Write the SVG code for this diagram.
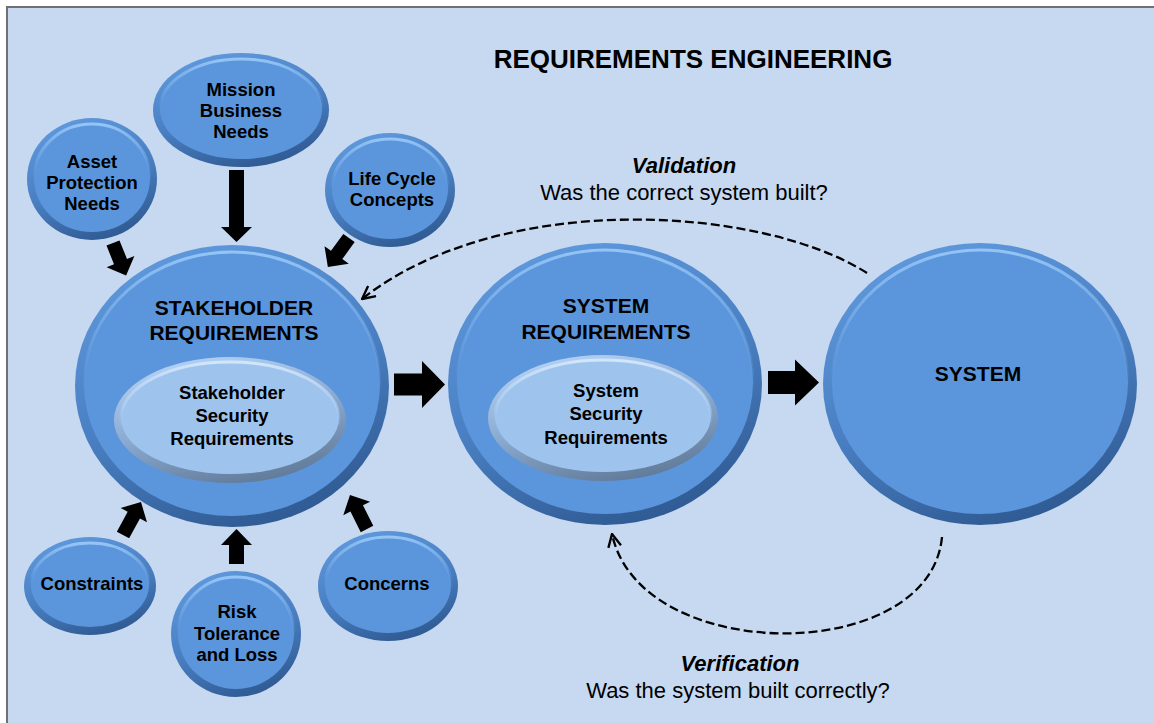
<svg xmlns="http://www.w3.org/2000/svg" width="1154" height="723" viewBox="0 0 1154 723">
<defs>
<linearGradient id="rim" x1="0.3" y1="0" x2="0.7" y2="1">
<stop offset="0" stop-color="#5f98dc"/>
<stop offset="0.5" stop-color="#4a80c3"/>
<stop offset="1" stop-color="#2e5890"/>
</linearGradient>
<linearGradient id="hl" x1="0" y1="0" x2="0" y2="1">
<stop offset="0" stop-color="#94c5f6" stop-opacity="1"/>
<stop offset="0.3" stop-color="#7fb3ee" stop-opacity="0.5"/>
<stop offset="0.55" stop-color="#5b96dc" stop-opacity="0"/>
</linearGradient>
<linearGradient id="rimL" x1="0.3" y1="0" x2="0.7" y2="1">
<stop offset="0" stop-color="#b3d1f4"/>
<stop offset="0.5" stop-color="#8aa9d0"/>
<stop offset="1" stop-color="#5f7896"/>
</linearGradient>
<linearGradient id="hlL" x1="0" y1="0" x2="0" y2="1">
<stop offset="0" stop-color="#d2e6fb" stop-opacity="1"/>
<stop offset="0.4" stop-color="#b8d6f7" stop-opacity="0.5"/>
<stop offset="0.6" stop-color="#9fc4ee" stop-opacity="0"/>
</linearGradient>
<marker id="open" viewBox="0 0 14 14" refX="13" refY="7" markerWidth="15" markerHeight="15" markerUnits="userSpaceOnUse" orient="auto">
<path d="M1,1 L13,7 L1,13" fill="none" stroke="#000" stroke-width="2.2"/>
</marker>
<style>
.rim{fill:url(#rim);}
.face{fill:#5b96dc;stroke:url(#hl);stroke-width:3;}
.rimL{fill:url(#rimL);}
.faceL{fill:#9ec4ee;stroke:url(#hlL);stroke-width:3;}
text{font-family:"Liberation Sans",Arial,sans-serif;font-weight:bold;fill:#000;text-anchor:middle;}
.n{font-size:18.5px;}
.big{font-size:21px;}
.title{font-size:26px;}
.lbl{font-size:22px;font-style:italic;}
.q{font-size:22px;font-weight:normal;}
.blk{fill:#000;}
.dash{fill:none;stroke:#000;stroke-width:2.3;stroke-dasharray:9,4;marker-end:url(#open);}
</style>
</defs>
<rect x="7" y="7" width="1160" height="730" fill="#c6d9f1" stroke="#707070" stroke-width="2"/>
<text class="title" x="693" y="68">REQUIREMENTS ENGINEERING</text>
<text class="lbl" x="684" y="173">Validation</text>
<text class="q" x="684" y="200">Was the correct system built?</text>
<text class="lbl" x="740" y="671">Verification</text>
<text class="q" x="738" y="698">Was the system built correctly?</text>

<g id="connectors">
<polygon class="blk" transform="translate(236.5,170) rotate(90)" points="0,-7.5 57,-7.5 57,-15.5 72,0 57,15.5 57,7.5 0,7.5"/>
<polygon class="blk" transform="translate(113,243) rotate(68)" points="0,-7 20,-7 20,-15 35,0 20,15 20,7 0,7"/>
<polygon class="blk" transform="translate(349,238) rotate(126)" points="0,-7 21,-7 21,-15 36,0 21,15 21,7 0,7"/>
<polygon class="blk" transform="translate(394,384.5)" points="0,-11 28,-11 28,-23.5 51,0 28,23.5 28,11 0,11"/>
<polygon class="blk" transform="translate(768,382.5)" points="0,-11.5 27,-11.5 27,-23 51,0 27,23 27,11.5 0,11.5"/>
<polygon class="blk" transform="translate(123,535) rotate(-61.4)" points="0,-7 22.6,-7 22.6,-15 37.6,0 22.6,15 22.6,7 0,7"/>
<polygon class="blk" transform="translate(236.5,564) rotate(-90)" points="0,-7.5 19,-7.5 19,-15.5 35,0 19,15.5 19,7.5 0,7.5"/>
<polygon class="blk" transform="translate(367,529) rotate(-116.6)" points="0,-7 23,-7 23,-15 38,0 23,15 23,7 0,7"/>
<path class="dash" d="M867,273 C760,205 500,190 362,299"/>
<path class="dash" d="M942,537 C930,666 640,666 612,534"/>
</g>

<g id="n-mission">
<ellipse class="rim" cx="241" cy="110" rx="88" ry="57"/>
<ellipse class="face" cx="241" cy="109" rx="81" ry="50"/>
<text class="n" x="241" y="96">Mission</text>
<text class="n" x="241" y="117">Business</text>
<text class="n" x="241" y="138">Needs</text>
</g>
<g id="n-asset">
<ellipse class="rim" cx="92" cy="179" rx="65" ry="61"/>
<ellipse class="face" cx="92" cy="178" rx="58" ry="54"/>
<text class="n" x="92" y="168">Asset</text>
<text class="n" x="92" y="189">Protection</text>
<text class="n" x="92" y="210">Needs</text>
</g>
<g id="n-lifecycle">
<ellipse class="rim" cx="390" cy="190" rx="65" ry="57"/>
<ellipse class="face" cx="390" cy="189" rx="58" ry="50"/>
<text class="n" x="392" y="185">Life Cycle</text>
<text class="n" x="392" y="206">Concepts</text>
</g>
<g id="n-stakeholder">
<ellipse class="rim" cx="232" cy="386" rx="157" ry="141"/>
<ellipse class="face" cx="232" cy="384" rx="148" ry="132"/>
<text class="big" x="234" y="315">STAKEHOLDER</text>
<text class="big" x="234" y="340">REQUIREMENTS</text>
<g id="n-stakeholder-security">
<ellipse class="rimL" cx="230" cy="420" rx="116" ry="63"/>
<ellipse class="faceL" cx="230" cy="418" rx="109" ry="56"/>
<text class="n" x="232" y="399">Stakeholder</text>
<text class="n" x="232" y="422">Security</text>
<text class="n" x="232" y="445">Requirements</text>
</g>
</g>
<g id="n-sysreq">
<ellipse class="rim" cx="605" cy="384" rx="157" ry="141"/>
<ellipse class="face" cx="605" cy="382" rx="148" ry="132"/>
<text class="big" x="606" y="313">SYSTEM</text>
<text class="big" x="606" y="339">REQUIREMENTS</text>
<g id="n-system-security">
<ellipse class="rimL" cx="603" cy="418" rx="115" ry="63"/>
<ellipse class="faceL" cx="603" cy="416" rx="108" ry="56"/>
<text class="n" x="606" y="397">System</text>
<text class="n" x="606" y="420">Security</text>
<text class="n" x="606" y="444">Requirements</text>
</g>
</g>
<g id="n-system">
<ellipse class="rim" cx="980" cy="384" rx="157" ry="141"/>
<ellipse class="face" cx="980" cy="382" rx="148" ry="132"/>
<text class="big" x="978" y="381">SYSTEM</text>
</g>
<g id="n-constraints">
<ellipse class="rim" cx="90" cy="586" rx="66" ry="49"/>
<ellipse class="face" cx="90" cy="585" rx="59" ry="42"/>
<text class="n" x="92" y="590">Constraints</text>
</g>
<g id="n-risk">
<ellipse class="rim" cx="236" cy="634" rx="65" ry="63"/>
<ellipse class="face" cx="236" cy="633" rx="58" ry="56"/>
<text class="n" x="237" y="618">Risk</text>
<text class="n" x="237" y="640">Tolerance</text>
<text class="n" x="237" y="661">and Loss</text>
</g>
<g id="n-concerns">
<ellipse class="rim" cx="388" cy="586" rx="70" ry="55"/>
<ellipse class="face" cx="388" cy="585" rx="63" ry="48"/>
<text class="n" x="387" y="590">Concerns</text>
</g>
</svg>
